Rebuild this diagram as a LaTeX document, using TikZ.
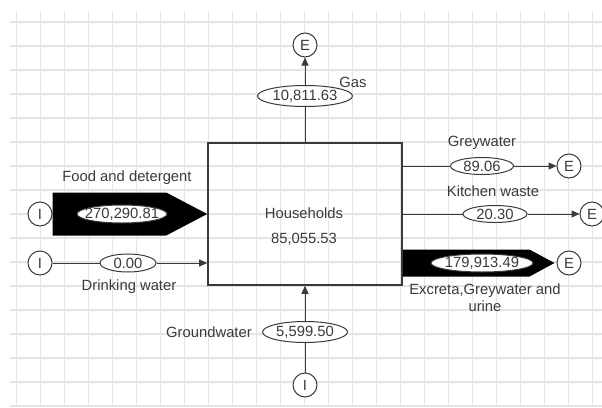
\documentclass[tikz,border=0pt]{standalone}
\usepackage{fontspec}
\setmainfont{Liberation Sans}
\usetikzlibrary{arrows.meta,shapes.geometric,calc}
\definecolor{gridgray}{HTML}{E4E4E4}
\definecolor{inkgray}{HTML}{3A3A3A}

\begin{document}
\begin{tikzpicture}[x=1pt, y=-1pt,
  every node/.style={font=\fontsize{14.8}{17}\selectfont, text=inkgray},
  ext/.style={draw=inkgray, circle, line width=1pt, minimum size=24, inner sep=0pt, fill=white},
  val/.style={draw=inkgray, ellipse, line width=1pt, inner sep=0pt, minimum height=18, fill=white},
  flow/.style={draw=inkgray, line width=1pt},
  tip/.style={-{Triangle[length=8pt,width=7pt]}}]
\useasboundingbox (0,0) rectangle (602,407);
\foreach \gx in {0,...,24}
    \draw[gridgray, line width=1.2pt] (16.7+24*\gx,12) -- (16.7+24*\gx,407);
\foreach \gy in {0,...,16}
    \draw[gridgray, line width=1.2pt] (10,22+24*\gy) -- (602,22+24*\gy);

\node[draw=inkgray, line width=1.6pt, minimum width=194, minimum height=142, inner sep=0pt] (house) at (305,214) {};
\node[align=center, font=\fontsize{14.8}{25}\selectfont] (houselbl) at (304,227) {Households\\85,055.53};

\node[ext] (egas) at (305,45) {E};
\node[ext] (ifood) at (40,214) {I};
\node[ext] (idrink) at (40,263) {I};
\node[ext] (egrey) at (569,166) {E};
\node[ext] (ekit) at (592,214) {E};
\node[ext] (eexc) at (569,263) {E};
\node[ext] (iground) at (305,385) {I};

\coordinate (foodtip) at (house.west |- ifood);
\fill[black] ($(ifood.east)+(0,-21.5)$) -- ($(foodtip)+(-41,-21.5)$) -- (foodtip)
    -- ($(foodtip)+(-41,21.5)$) -- ($(ifood.east)+(0,21.5)$) -- cycle;
\coordinate (exctip) at ($(eexc.west)+(-2,0)$);
\fill[black] ($(house.east |- eexc)+(0,-13.5)$) -- ($(exctip)+(-25,-13.5)$) -- (exctip)
    -- ($(exctip)+(-25,13.5)$) -- ($(house.east |- eexc)+(0,13.5)$) -- cycle;

\node[val, minimum width=95, minimum height=21] (gasval) at (305,96) {\makebox[0pt]{10,811.63}};
\node[val, minimum width=90] (foodval) at (122,214) {\makebox[0pt]{270,290.81}};
\node[val, minimum width=56] (drinkval) at (128,263) {\makebox[0pt]{0.00}};
\node[val, minimum width=63, minimum height=17] (greyval) at (482,166) {\makebox[0pt]{89.06}};
\node[val, minimum width=64, minimum height=17] (kitval) at (495,214) {\makebox[0pt]{20.30}};
\node[val, minimum width=102] (excval) at (482,263) {\makebox[0pt]{179,913.49}};
\node[val, minimum width=85, minimum height=21] (groundval) at (305,332) {\makebox[0pt]{5,599.50}};

\draw[flow] (house.north) -- (gasval);
\draw[flow, tip] (gasval) -- (egas);
\draw[flow] (idrink) -- (drinkval);
\draw[flow, tip] (drinkval) -- (house.west |- drinkval);
\draw[flow] (house.east |- greyval) -- (greyval);
\draw[flow, tip] (greyval) -- (egrey);
\draw[flow] (house.east |- kitval) -- (kitval);
\draw[flow, tip] (kitval) -- (ekit);
\draw[flow] (iground) -- (groundval);
\draw[flow, tip] (groundval) -- (house.south);

\node (gaslbl) at (353,82) {Gas};
\node (foodlbl) at (127,178) {Food and detergent};
\node (drinklbl) at (129,287) {Drinking water};
\node (groundlbl) at (209,332) {Groundwater};
\node (greylbl) at (482,143) {Greywater};
\node (kitlbl) at (493,191) {Kitchen waste};
\node[align=center] (exclbl) at (485,298) {Excreta,Greywater and\\urine};
\end{tikzpicture}
\end{document}
